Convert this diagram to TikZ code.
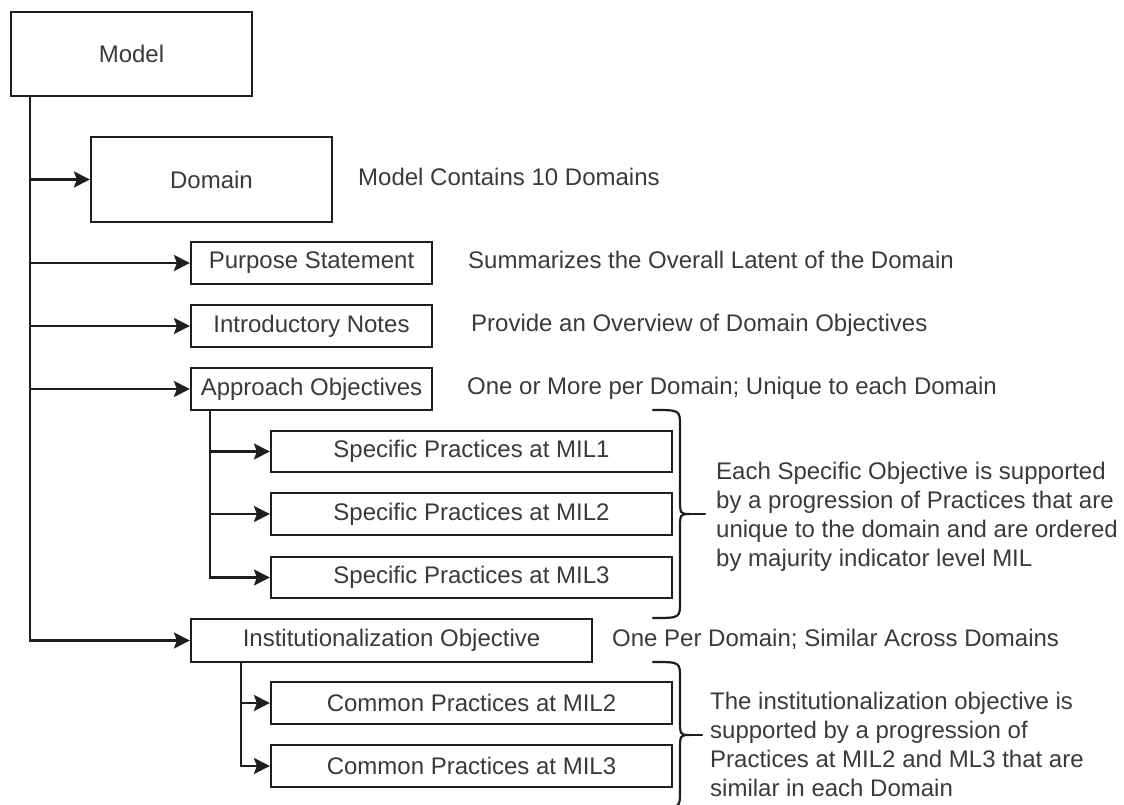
\documentclass[tikz,border=0pt]{standalone}
\usepackage{fontspec}
\setmainfont{Liberation Sans}
\usetikzlibrary{arrows.meta}
\definecolor{ink}{HTML}{1E1E1E}
\definecolor{txt}{HTML}{3A3A3A}
\newcommand{\labelfont}{\fontsize{24}{29}\selectfont}
\begin{document}
\begin{tikzpicture}[x=1pt,y=-1pt,
  box/.style={draw=ink, line width=2.2pt, fill=white, inner sep=0pt,
    font=\labelfont, text=txt},
  note/.style={inner sep=0pt, anchor=west, font=\labelfont, text=txt,
    text height=16pt, text depth=5pt},
  para/.style={inner sep=0pt, anchor=north west, align=left,
    font=\labelfont, text=txt},
  link/.style={draw=ink, line width=2.2pt,
    -{Stealth[length=16pt,width=16pt,inset=3pt]}},
  brace/.style={draw=ink, line width=2.2pt, line cap=round}]
\useasboundingbox (0,0) rectangle (1124,805);

% boxes
\node[box, minimum width=241, minimum height=84] (model) at (131.5,54) {Model};
\node[box, minimum width=241, minimum height=85] (domain) at (211.5,179.5) {Domain};
\node[box, minimum width=241, minimum height=42] (purpose) at (311.5,263) {Purpose Statement};
\node[box, minimum width=241, minimum height=42] (intro) at (311.5,326) {Introductory Notes};
\node[box, minimum width=241, minimum height=42] (approach) at (311.5,389) {Approach Objectives};
\node[box, minimum width=401, minimum height=41] (sp1) at (471.5,451.5) {Specific Practices at MIL1};
\node[box, minimum width=401, minimum height=42] (sp2) at (471.5,514) {Specific Practices at MIL2};
\node[box, minimum width=401, minimum height=41] (sp3) at (471.5,577.5) {Specific Practices at MIL3};
\node[box, minimum width=401, minimum height=43] (inst) at (391.5,640.5) {Institutionalization Objective};
\node[box, minimum width=401, minimum height=42] (cp2) at (471.5,703) {Common Practices at MIL2};
\node[box, minimum width=401, minimum height=42] (cp3) at (471.5,766) {Common Practices at MIL3};

% connectors
\foreach \t in {domain,purpose,intro,approach,inst}
  \draw[link] ([xshift=20pt]model.south west) |- (\t.west);
\foreach \t in {sp1,sp2,sp3}
  \draw[link] ([xshift=20pt]approach.south west) |- (\t.west);
\foreach \t in {cp2,cp3}
  \draw[link] ([xshift=51pt]inst.south west) |- (\t.west);

% side notes
\node[note] (n-domain) at (358,180) {Model Contains 10 Domains};
\node[note] (n-purpose) at (468,263) {Summarizes the Overall Latent of the Domain};
\node[note] (n-intro) at (471,326) {Provide an Overview of Domain Objectives};
\node[note] (n-approach) at (467,389) {One or More per Domain; Unique to each Domain};
\node[note] (n-inst) at (612,641) {One Per Domain; Similar Across Domains};

% braces
\draw[brace] (653,410) .. controls (680,410) .. (680,426) -- (680,498)
  .. controls (680,514) .. (690,514) .. controls (680,514) .. (680,530)
  -- (680,602) .. controls (680,618) .. (653,618);
\draw[brace] (690,514) -- (705,514);
\draw[brace] (653,662) .. controls (680,662) .. (680,678) -- (680,719)
  .. controls (680,735) .. (690,735) .. controls (680,735) .. (680,751)
  -- (680,792) .. controls (680,808) .. (653,808);
\draw[brace] (690,735) -- (702,735);

% brace texts
\node[para] (d-specific) at (716,462) {Each Specific Objective is supported\\
by a progression of Practices that are\\
unique to the domain and are ordered\\
by majurity indicator level MIL};
\node[para] (d-inst) at (710,692) {The institutionalization objective is\\
supported by a progression of\\
Practices at MIL2 and ML3 that are\\
similar in each Domain};
\end{tikzpicture}
\end{document}
